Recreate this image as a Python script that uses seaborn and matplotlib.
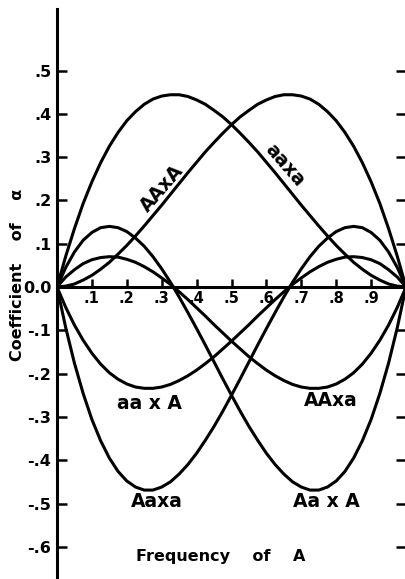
import numpy as np
import pandas as pd
import matplotlib
matplotlib.use("Agg")
import matplotlib.pyplot as plt
import seaborn as sns

# ---- data ----
freq_A = [0.0, 0.025, 0.05, 0.075, 0.10, 0.125, 0.15, 0.175, 0.20, 0.225, 0.25,
          0.275, 0.30, 0.325, 0.35, 0.375, 0.40, 0.425, 0.45, 0.475, 0.50,
          0.525, 0.55, 0.575, 0.60, 0.625, 0.65, 0.675, 0.70, 0.725, 0.75,
          0.775, 0.80, 0.825, 0.85, 0.875, 0.90, 0.925, 0.95, 0.975, 1.0]

AAxA = [0, .002, .007, .016, .027, .041, .057, .076, .096, .118, .141, .165, .189,
        .214, .239, .264, .288, .312, .334, .355, .375, .393, .408, .422, .432, .440,
        .444, .444, .441, .434, .422, .405, .384, .357, .325, .287, .243, .193, .135,
        .071, 0]
aaxa = [0, .071, .135, .193, .243, .287, .325, .357, .384, .405, .422, .434, .441,
        .444, .444, .440, .432, .422, .408, .393, .375, .355, .334, .312, .288, .264,
        .239, .214, .189, .165, .141, .118, .096, .076, .057, .041, .027, .016, .007,
        .002, 0]
AAxa = [0, .023, .040, .054, .063, .068, .070, .069, .064, .057, .047, .035, .021,
        .006, -.011, -.029, -.048, -.067, -.087, -.106, -.125, -.143, -.161, -.177,
        -.192, -.205, -.216, -.225, -.231, -.234, -.234, -.231, -.224, -.213, -.198,
        -.178, -.153, -.123, -.088, -.047, 0]
AaxA = [0, .045, .081, .108, .126, .137, .140, .137, .128, .113, .094, .070, .042,
        .011, -.023, -.059, -.096, -.134, -.173, -.212, -.250, -.287, -.322, -.354,
        -.384, -.410, -.432, -.450, -.462, -.469, -.469, -.462, -.448, -.426, -.395,
        -.355, -.306, -.246, -.176, -.094, 0]
aaxA = [0, -.047, -.088, -.123, -.153, -.178, -.198, -.213, -.224, -.231, -.234,
        -.234, -.231, -.225, -.216, -.205, -.192, -.177, -.161, -.143, -.125, -.106,
        -.087, -.067, -.048, -.029, -.011, .006, .021, .035, .047, .057, .064, .069,
        .070, .068, .063, .054, .040, .023, 0]
Aaxa = [0, -.094, -.176, -.246, -.306, -.355, -.395, -.426, -.448, -.462, -.469,
        -.469, -.462, -.450, -.432, -.410, -.384, -.354, -.322, -.287, -.250, -.212,
        -.173, -.134, -.096, -.059, -.023, .011, .042, .070, .094, .113, .128, .137,
        .140, .137, .126, .108, .081, .045, 0]

series = {"AA x A": AAxA, "aa x a": aaxa, "AA x a": AAxa,
          "Aa x A": AaxA, "aa x A": aaxA, "Aa x a": Aaxa}

x_ticks = [0.1, 0.2, 0.3, 0.4, 0.5, 0.6, 0.7, 0.8, 0.9]
x_ticklabels = [".1", ".2", ".3", ".4", ".5", ".6", ".7", ".8", ".9"]
y_ticks = [0.5, 0.4, 0.3, 0.2, 0.1, 0.0, -0.1, -0.2, -0.3, -0.4, -0.5, -0.6]
y_ticklabels = [".5", ".4", ".3", ".2", ".1", "0.0", "-.1", "-.2", "-.3", "-.4", "-.5", "-.6"]

df = pd.concat([pd.DataFrame({"p": freq_A, "coef": v, "cross": k})
                for k, v in series.items()], ignore_index=True)

# ---- figure ----
sns.set_theme(style="ticks")
plt.rcParams["font.family"] = ["DejaVu Sans"]
for key in ["text.color", "axes.labelcolor", "xtick.color", "ytick.color",
            "axes.edgecolor"]:
    plt.rcParams[key] = "black"

W, H = 405, 579
fig = plt.figure(figsize=(W / 100, H / 100), dpi=100)
x0_px, x1_px = 57, 406
top_px, zero_px, per01 = 9, 287, 43.3
ax = fig.add_axes([x0_px / W, 0.0, (x1_px - x0_px) / W, (H - top_px) / H])

sns.lineplot(data=df, x="p", y="coef", hue="cross",
             palette=["black"] * 6, linewidth=2.2, legend=False, ax=ax,
             sort=False, estimator=None)

ax.set_xlim(0, 1)
ax.set_ylim(-(H - zero_px) / (per01 * 10), (zero_px - top_px) / (per01 * 10))

ax.spines["top"].set_visible(False)
ax.spines["right"].set_visible(False)
ax.spines["left"].set_linewidth(2.2)
ax.spines["bottom"].set_position(("data", 0))
ax.spines["bottom"].set_linewidth(2.2)

ax.set_xticks(x_ticks)
ax.set_xticklabels(x_ticklabels, fontsize=10.5, fontweight="bold")
ax.set_yticks(y_ticks)
ax.set_yticklabels(y_ticklabels, fontsize=11.5, fontweight="bold")
ax.tick_params(axis="x", direction="in", length=6, width=1.8, pad=3)
ax.tick_params(axis="y", direction="in", length=7, width=1.8, pad=4,
               right=True, labelright=False)
ax.set_xlabel("")
ax.set_ylabel("")

lab_kw = dict(fontsize=13.5, fontweight="bold", ha="center", va="center")
ax.text(0.266, -0.268, "aa x A", **lab_kw)
ax.text(0.785, -0.261, "AAxa", **lab_kw)
ax.text(0.286, -0.496, "Aaxa", **lab_kw)
ax.text(0.773, -0.496, "Aa x A", **lab_kw)
ax.text(0.30, 0.228, "AAxA", rotation=49, rotation_mode="anchor", **lab_kw)
ax.text(0.653, 0.282, "aaxa", rotation=-49, rotation_mode="anchor", **lab_kw)

fig.text(221 / W, 1 - 557 / H, "Frequency    of    A", fontsize=11.5,
         fontweight="bold", ha="center", va="center")
fig.text(18 / W, 1 - 275 / H, "Coefficient    of    α", fontsize=11.5,
         fontweight="bold", ha="center", va="center", rotation=90)

fig.savefig("out.png", dpi=100)
